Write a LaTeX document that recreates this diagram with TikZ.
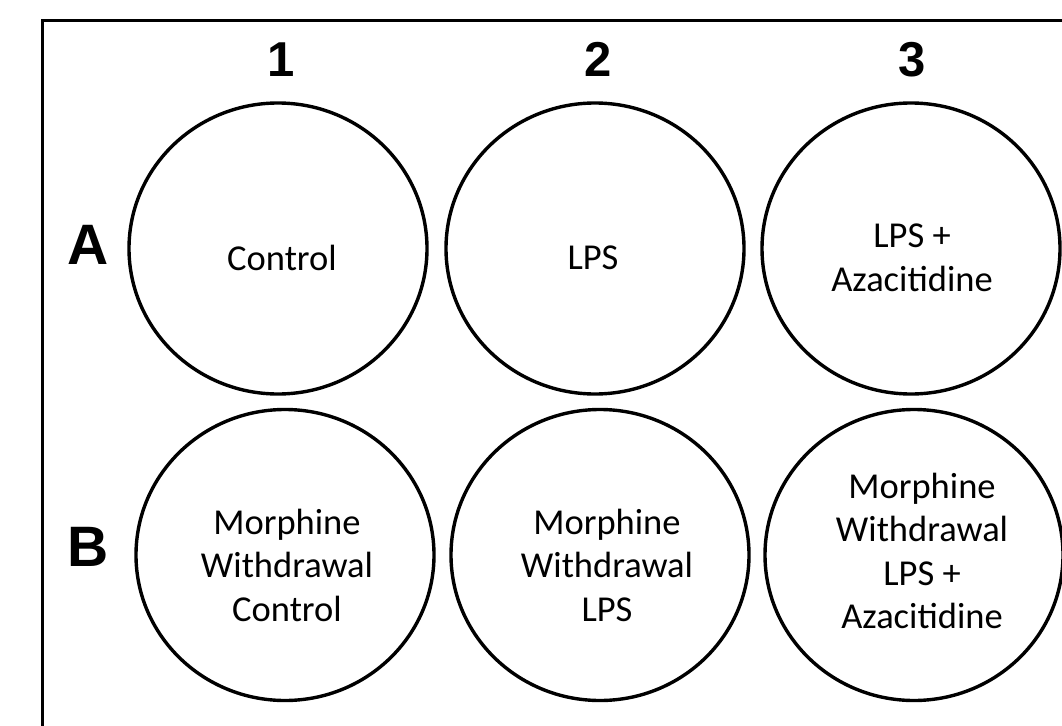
\documentclass[tikz,border=0pt]{standalone}
\usepackage{fontspec}
\setmainfont{Carlito}
\newfontfamily\labelfont{Liberation Sans}
\usetikzlibrary{shapes.geometric}
\tikzset{
  well/.style={draw=black, line width=3.4pt, ellipse, minimum width=298pt, minimum height=291pt, inner sep=0pt},
  welltext/.style={align=center, inner sep=0pt, font=\fontsize{36.5}{43.5}\selectfont},
  collabel/.style={inner sep=0pt, font=\labelfont\bfseries\fontsize{49}{49}\selectfont},
  rowlabel/.style={inner sep=0pt, font=\labelfont\bfseries\fontsize{57}{57}\selectfont},
  frame/.style={draw=black, line width=3.4pt}
}
\begin{document}
\begin{tikzpicture}[x=1pt,y=-1pt]
\useasboundingbox (0,0) rectangle (1062,725);
\clip (0,0) rectangle (1062,725);
\fill[white] (0,0) rectangle (1062,725);
\coordinate (fnw) at (42.5,20.5);
\coordinate (fse) at (1120,780);
\draw[frame] (fnw) rectangle (fse);
% wells
\node[well] (A1) at (278,248.5) {};
\node[well] (A2) at (595,248.5) {};
\node[well] (A3) at (911,248.5) {};
\node[well] (B1) at (285,555) {};
\node[well] (B2) at (600,555) {};
\node[well] (B3) at (914,555) {};
% texts
\node[welltext] (tA1) at (282,258) {Control};
\node[welltext] (tA2) at (593,258) {LPS};
\node[welltext] (tA3) at (912,258) {LPS +\\Azacitidine};
\node[welltext] (tB1) at (287,565) {Morphine\\Withdrawal\\Control};
\node[welltext] (tB2) at (607,565) {Morphine\\Withdrawal\\LPS};
\node[welltext] (tB3) at (922,551) {Morphine\\Withdrawal\\LPS +\\Azacitidine};
% labels
\node[collabel] (c1) at (281,59.5) {1};
\node[collabel] (c2) at (598,59.5) {2};
\node[collabel] (c3) at (912,60) {3};
\node[rowlabel] (rA) at (88,245) {A};
\node[rowlabel] (rB) at (88,547) {B};
\end{tikzpicture}
\end{document}
